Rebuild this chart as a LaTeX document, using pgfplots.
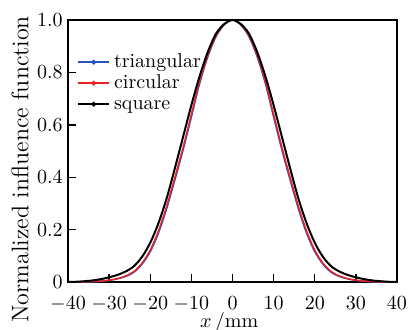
\documentclass[border=0pt]{standalone}
\usepackage{pgfplots}
\pgfplotsset{compat=1.18}
\definecolor{cblue}{RGB}{40,80,190}
\definecolor{cred}{RGB}{235,35,35}
\begin{document}
\begin{tikzpicture}
\begin{axis}[
  name=ax,
  width=164.5pt, height=131pt, scale only axis,
  xmin=-40, xmax=40, ymin=0, ymax=1,
  xtick={-40,-30,...,40},
  ytick={0,0.2,0.4,0.6,0.8,1.0},
  yticklabels={0,0.2,0.4,0.6,0.8,1.0},
  tick align=inside, major tick length=4pt,
  xtick pos=bottom, ytick pos=left,
  axis line style={line width=0.8pt},
  tick style={line width=0.7pt, black},
  xticklabel style={inner sep=1pt, yshift=-6.3pt},
  yticklabel style={inner sep=1pt, xshift=-1.5pt},
  xlabel={$x$\,/mm}, ylabel={Normalized influence function},
  xlabel style={at={(axis description cs:0.49,0)}, anchor=base, yshift=-22.8pt},
  ylabel style={at={([xshift=-24pt]axis description cs:0,0.43)}, anchor=center, font=\fontsize{12}{14}\selectfont},
  legend style={draw=none, fill=none, at={(0.027,0.875)}, anchor=north west,
    inner sep=0pt, row sep=1.5pt, font=\normalsize,
    nodes={inner sep=0pt, text height=7pt, text depth=2pt}},
  legend cell align=left,
  legend image code/.code={\draw[mark repeat=2,mark phase=2,#1] plot coordinates {(0cm,0cm) (0.275cm,0cm) (0.55cm,0cm)}; \path (0.62cm,0cm);},
]
\addplot[cblue, line width=0.75pt, smooth, forget plot] coordinates {
(-40,0) (-38,0) (-36,0) (-34,0.001) (-32,0.003) (-30,0.006) (-28,0.012) (-26,0.021) (-24,0.037) (-22,0.068) (-20,0.116) (-18,0.187) (-16,0.281) (-14,0.39) (-12,0.505) (-10,0.63) (-8,0.757) (-6,0.86) (-4,0.937) (-2,0.982) (0,1) (2,0.982) (4,0.937) (6,0.86) (8,0.757) (10,0.63) (12,0.505) (14,0.39) (16,0.281) (18,0.187) (20,0.116) (22,0.068) (24,0.037) (26,0.021) (28,0.012) (30,0.006) (32,0.003) (34,0.001) (36,0) (38,0) (40,0)};
\addplot[cred, line width=0.75pt, smooth, forget plot] coordinates {
(-40,0) (-38,0) (-36,0.001) (-34,0.002) (-32,0.004) (-30,0.007) (-28,0.013) (-26,0.023) (-24,0.04) (-22,0.072) (-20,0.122) (-18,0.195) (-16,0.29) (-14,0.4) (-12,0.515) (-10,0.64) (-8,0.765) (-6,0.865) (-4,0.94) (-2,0.983) (0,1) (2,0.983) (4,0.94) (6,0.865) (8,0.765) (10,0.64) (12,0.515) (14,0.4) (16,0.29) (18,0.195) (20,0.122) (22,0.072) (24,0.04) (26,0.023) (28,0.013) (30,0.007) (32,0.004) (34,0.002) (36,0.001) (38,0) (40,0)};
\addplot[black, line width=1pt, smooth, forget plot] coordinates {
(-40,0) (-38,0.001) (-36,0.003) (-34,0.006) (-32,0.011) (-30,0.018) (-28,0.027) (-26,0.04) (-24,0.06) (-22,0.096) (-20,0.15) (-18,0.225) (-16,0.32) (-14,0.435) (-12,0.555) (-10,0.675) (-8,0.785) (-6,0.878) (-4,0.948) (-2,0.985) (0,1) (2,0.985) (4,0.948) (6,0.878) (8,0.785) (10,0.675) (12,0.555) (14,0.435) (16,0.32) (18,0.225) (20,0.15) (22,0.096) (24,0.06) (26,0.04) (28,0.027) (30,0.018) (32,0.011) (34,0.006) (36,0.003) (38,0.001) (40,0)};
\addlegendimage{cblue, line width=0.75pt, mark=*, mark size=0.8pt}
\addlegendentry{triangular}
\addlegendimage{cred, line width=0.75pt, mark=*, mark size=0.8pt}
\addlegendentry{circular}
\addlegendimage{black, line width=0.75pt, mark=*, mark size=0.8pt}
\addlegendentry{square}
\end{axis}
\pgfresetboundingbox
\path ([xshift=-34pt,yshift=-23.5pt]ax.south west) rectangle ([xshift=5.5pt,yshift=10pt]ax.north east);
\end{tikzpicture}
\end{document}
